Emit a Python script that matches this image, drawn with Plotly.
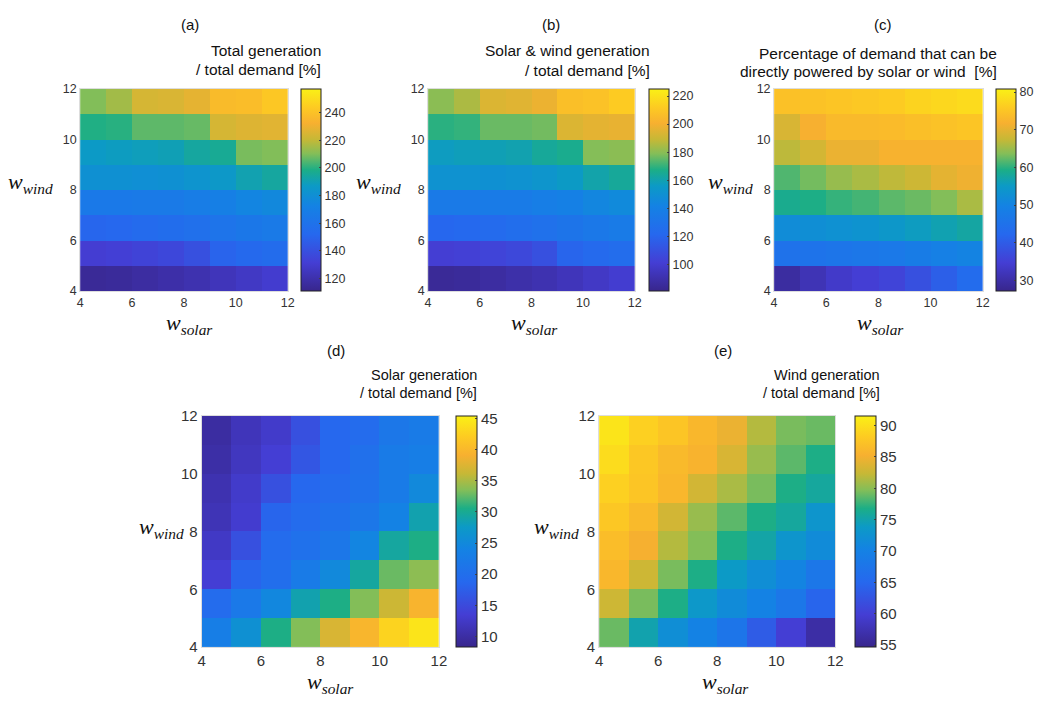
import plotly.graph_objects as go

# grid edges of w_solar (x) and w_wind (y)
w_edges = [4, 5, 6, 7, 8, 9, 10, 11, 12]
tick_vals = [4, 6, 8, 10, 12]

# rows from w_wind 4-5 (bottom) to 11-12 (top); columns w_solar 4-5 ... 11-12
total_gen = [
    [114, 115, 117, 119, 121, 124, 127, 130],
    [131, 132, 134, 136, 140, 150, 153, 155],
    [151, 152, 154, 156, 158, 161, 164, 166],
    [165, 165, 166, 166, 168, 170, 174, 176],
    [181, 181, 180, 181, 183, 186, 191, 194],
    [187, 188, 189, 190, 194, 196, 209, 210],
    [199, 200, 206, 206, 207, 224, 226, 227],
    [210, 215, 224, 225, 228, 237, 238, 242],
]
solar_wind_gen = [
    [84, 85, 87, 89, 91, 94, 97, 100],
    [101, 102, 104, 106, 110, 120, 123, 125],
    [121, 122, 124, 126, 128, 131, 134, 136],
    [135, 135, 136, 136, 138, 140, 144, 146],
    [151, 151, 150, 151, 153, 156, 161, 164],
    [157, 158, 159, 160, 164, 166, 179, 180],
    [169, 170, 176, 176, 177, 194, 196, 197],
    [180, 185, 194, 195, 198, 207, 208, 212],
]
direct_pct = [
    [29.3, 31.5, 33.6, 34.7, 35.8, 37.9, 40.6, 43.3],
    [45, 45.5, 46, 46.5, 47, 48, 49, 50],
    [52, 52.5, 53, 53.5, 54.5, 55.5, 56.5, 57.5],
    [58.8, 59.4, 60.4, 61, 62, 62.6, 63.6, 65.8],
    [61.5, 63, 64.7, 65.8, 67, 68, 70, 71],
    [66.9, 68.5, 70.6, 70.6, 72, 72, 72, 72],
    [69, 71.7, 73.3, 73.3, 73.5, 74, 74.5, 75],
    [74.4, 74.6, 75, 75.5, 76, 77, 77.5, 78],
]
solar_gen = [
    [23.1, 26.1, 30.6, 33.5, 37.2, 39.8, 42.8, 44.3],
    [19.4, 22.0, 24.6, 28.7, 30.6, 33.5, 36.5, 39.5],
    [13.5, 18.3, 19.8, 22.4, 25.0, 29.4, 32.8, 33.9],
    [12.4, 15.7, 19.4, 20.5, 21.7, 24.3, 29.4, 30.6],
    [11.3, 13.1, 18.3, 19.4, 20.5, 21.7, 23.9, 28.7],
    [10.9, 12.8, 15.7, 18.7, 19.4, 20.5, 22.4, 25.0],
    [10.2, 12.0, 13.5, 16.5, 18.7, 20.2, 22.4, 23.1],
    [9.8, 11.6, 12.8, 15.7, 18.7, 19.4, 21.7, 22.4],
]
wind_gen = [
    [79.0, 75.0, 72.0, 70.2, 67.6, 63.5, 59.9, 56.5],
    [82.7, 79.4, 76.8, 73.5, 71.6, 70.2, 68.0, 64.6],
    [86.0, 82.7, 79.4, 76.8, 73.8, 72.0, 70.5, 68.0],
    [86.7, 85.2, 81.6, 79.7, 76.8, 75.3, 73.1, 71.6],
    [87.8, 86.3, 83.0, 80.5, 78.6, 76.8, 75.7, 73.1],
    [88.6, 87.5, 86.0, 83.0, 81.2, 79.4, 76.8, 75.7],
    [89.7, 87.8, 86.3, 85.6, 83.4, 80.5, 78.6, 76.8],
    [90.4, 88.6, 87.5, 86.0, 84.5, 81.6, 79.4, 79.0],
]

panel_labels = ["(a)", "(b)", "(c)", "(d)", "(e)"]
cbar_titles = [
    ["Total generation", "/ total demand [%]"],
    ["Solar &amp; wind generation", "/ total demand [%]"],
    ["Percentage of demand that can be", "directly powered by solar or wind  [%]"],
    ["Solar generation", "/ total demand [%]"],
    ["Wind generation", "/ total demand [%]"],
]
cbar_ticks = [
    [120, 140, 160, 180, 200, 220, 240],
    [100, 120, 140, 160, 180, 200, 220],
    [30, 40, 50, 60, 70, 80],
    [10, 15, 20, 25, 30, 35, 40, 45],
    [55, 60, 65, 70, 75, 80, 85, 90],
]
z_ranges = [(111, 257), (81, 225), (27.2, 80.8), (8.3, 45.4), (54.7, 91.5)]
datasets = [total_gen, solar_wind_gen, direct_pct, solar_gen, wind_gen]

parula = [
    [0.00, "rgb(56,38,140)"],
    [0.14, "rgb(68,62,212)"],
    [0.28, "rgb(38,104,238)"],
    [0.42, "rgb(20,130,228)"],
    [0.52, "rgb(12,154,198)"],
    [0.60, "rgb(28,174,134)"],
    [0.68, "rgb(132,190,88)"],
    [0.75, "rgb(198,184,54)"],
    [0.83, "rgb(247,176,48)"],
    [0.91, "rgb(253,203,34)"],
    [1.00, "rgb(250,240,22)"],
]

W, H = 1048, 704
# layout geometry in pixels: (x0, x1, y0, y1, cbar_x0, cbar_x1)
geom = [
    (77, 287, 82, 289, 300, 320),
    (429, 638, 82, 289, 652, 672),
    (779, 990, 82, 289, 1003, 1023),
    (200, 440, 417, 654, 457, 478),
    (602, 841, 417, 654, 861, 882),
]
label_pos = [
    # panel label x,y ; title right x, y1, y2 ; wwind x,y ; wsolar x,y
    (188, 16, 323, 43, 62, 27, 178, 188, 323),
    (553, 16, 656, 43, 63, 379, 178, 537, 323),
    (889, 16, 1007, 46, 64, 735, 178, 887, 323),
    (336, 350, 480, 375, 393, 159, 532, 330, 691),
    (727, 350, 888, 375, 393, 559, 532, 730, 691),
]

fig = go.Figure()
annotations = []
layout_axes = {}
for i, (z, (zmin, zmax)) in enumerate(zip(datasets, z_ranges)):
    x0, x1, y0, y1, cx0, cx1 = geom[i]
    big = i >= 3
    tfs = 15 if big else 12.5
    n = "" if i == 0 else str(i + 1)
    fig.add_trace(go.Heatmap(
        z=z, x=w_edges, y=w_edges, zmin=zmin, zmax=zmax,
        colorscale=parula, xaxis="x" + n, yaxis="y" + n,
        colorbar=dict(
            x=cx0 / W, xanchor="left", xpad=0, ypad=0,
            y=1 - (y0 + y1) / 2 / H, yanchor="middle",
            len=(y1 - y0) / H, lenmode="fraction",
            thickness=cx1 - cx0, thicknessmode="pixels",
            outlinewidth=1, outlinecolor="#222",
            tickvals=cbar_ticks[i], ticks="inside", ticklen=2, tickcolor="#444",
            tickfont=dict(family="Liberation Sans, Arial", size=tfs, color="#333"),
        ),
    ))
    axcommon = dict(
        range=[4, 12], tickvals=tick_vals, showgrid=False, zeroline=False,
        showline=True, linecolor="#dddddd", linewidth=1, mirror=True,
        ticks="", tickfont=dict(family="Liberation Sans, Arial", size=tfs, color="#333"),
    )
    layout_axes["xaxis" + n] = dict(axcommon, domain=[x0 / W, x1 / W], anchor="y" + n)
    layout_axes["yaxis" + n] = dict(axcommon, domain=[1 - y1 / H, 1 - y0 / H], anchor="x" + n)

    px, py, tx, ty1, ty2, wwx, wwy, wsx, wsy = label_pos[i]
    lab = dict(family="Liberation Sans, Arial", size=15, color="#111")
    ttl = dict(family="Liberation Sans, Arial", size=14.5 if big else 15.5, color="#111")
    annotations.append(dict(text=panel_labels[i], x=px / W, y=1 - py / H, xref="paper", yref="paper",
                            showarrow=False, xanchor="center", yanchor="middle", font=lab))
    for t, ty in zip(cbar_titles[i], (ty1, ty2)):
        annotations.append(dict(text=t, x=tx / W, y=1 - ty / H, xref="paper", yref="paper",
                                showarrow=False, xanchor="right", yanchor="middle", font=ttl))
    serif = dict(family="Liberation Serif, Times New Roman", size=22, color="#111")
    annotations.append(dict(text="<i>w<sub>wind</sub></i>", x=wwx / W, y=1 - wwy / H,
                            xref="paper", yref="paper", showarrow=False,
                            xanchor="center", yanchor="middle", font=serif))
    annotations.append(dict(text="<i>w<sub>solar</sub></i>", x=wsx / W, y=1 - wsy / H,
                            xref="paper", yref="paper", showarrow=False,
                            xanchor="center", yanchor="middle", font=serif))

fig.update_layout(
    width=W, height=H, margin=dict(l=0, r=0, t=0, b=0),
    paper_bgcolor="white", plot_bgcolor="white",
    annotations=annotations, showlegend=False, **layout_axes,
)
fig.write_html("out.html")
